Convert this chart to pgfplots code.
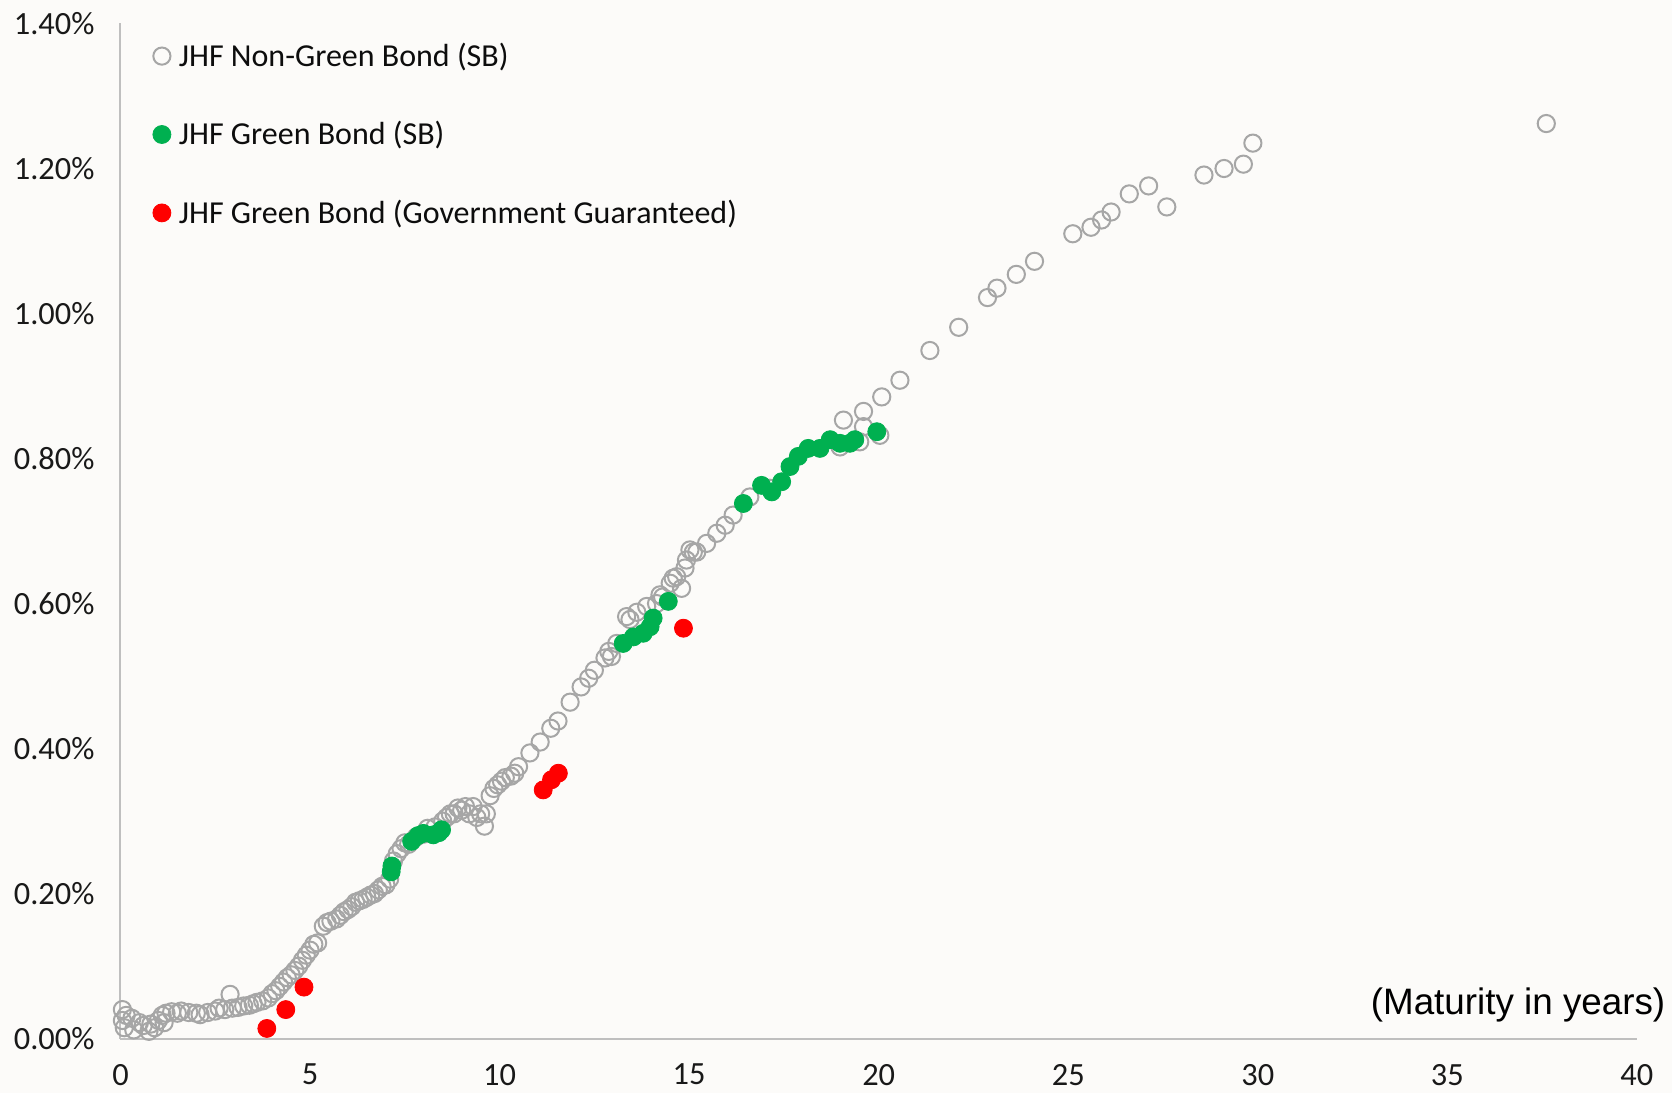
\documentclass[border=0pt]{standalone}
\usepackage{pgfplots}
\pgfplotsset{compat=1.18}
\usepackage{fontspec}
\setmainfont{Carlito}
\newfontfamily\arialfont{Liberation Sans}
\usetikzlibrary{backgrounds}
\definecolor{bgc}{RGB}{252,251,249}
\definecolor{gry}{RGB}{166,166,166}
\definecolor{grn}{RGB}{0,176,80}
\definecolor{rd}{RGB}{255,0,0}
\definecolor{axc}{RGB}{191,191,191}
\begin{document}
\begin{tikzpicture}[background rectangle/.style={fill=bgc,draw=none}, show background rectangle, inner frame sep=0pt]
\begin{axis}[
  scale only axis, width=758.2pt, height=507.55pt,
  xmin=0, xmax=40, ymin=0, ymax=1.4,
  axis x line=bottom, axis y line=left,
  axis line style={axc, line width=1pt, -},
  xtick={0,5,10,15,20,25,30,35,40},
  ytick={0,0.2,0.4,0.6,0.8,1.0,1.2,1.4},
  major tick length=0pt,
  tick label style={font=\fontsize{16.2}{19}\selectfont, text=black!90},
  /pgf/number format/assume math mode=true,
  yticklabel={\pgfmathprintnumber[fixed,fixed zerofill,precision=2]{\tick}\%},
  yticklabel style={xshift=-9.5pt},
  xticklabel style={inner sep=0pt, yshift=-12.5pt},
  xlabel={(Maturity in years)},
  xlabel style={at={(rel axis cs:1,0)}, anchor=east, xshift=14.4pt, yshift=17pt, inner sep=0pt,
    font=\arialfont\fontsize{18.4}{22}\selectfont, text=black},
  legend style={at={(rel axis cs:0,1)}, anchor=north west, xshift=13pt, yshift=-5.5pt,
    draw=none, fill=none, font=\fontsize{16}{19}\selectfont, row sep=22pt, text=black!95},
  legend cell align=left,
  clip=false,
]
\addplot[only marks, mark=o, mark size=4.3pt, mark options={draw=gry, line width=1pt}] table {
x y
0.05 0.040
0.05 0.025
0.10 0.015
0.15 0.032
0.30 0.028
0.35 0.012
0.50 0.022
0.60 0.018
0.75 0.010
0.80 0.020
0.90 0.015
1.00 0.025
1.10 0.032
1.15 0.022
1.20 0.035
1.35 0.037
1.50 0.035
1.60 0.038
1.80 0.036
2.00 0.035
2.10 0.033
2.30 0.036
2.50 0.038
2.60 0.042
2.75 0.040
2.89 0.061
2.95 0.042
3.10 0.043
3.25 0.045
3.40 0.046
3.50 0.048
3.60 0.050
3.75 0.052
3.90 0.056
4.00 0.062
4.10 0.066
4.20 0.072
4.30 0.078
4.40 0.084
4.50 0.088
4.60 0.094
4.70 0.100
4.80 0.108
4.90 0.115
5.00 0.122
5.10 0.130
5.20 0.132
5.35 0.155
5.45 0.160
5.55 0.162
5.70 0.165
5.80 0.170
5.90 0.175
6.00 0.178
6.10 0.182
6.20 0.188
6.30 0.190
6.40 0.192
6.50 0.195
6.60 0.198
6.70 0.200
6.80 0.205
6.90 0.210
7.00 0.212
7.10 0.220
7.20 0.245
7.30 0.255
7.40 0.262
7.50 0.270
7.60 0.268
7.80 0.278
8.00 0.282
8.10 0.290
8.30 0.292
8.50 0.300
8.60 0.305
8.70 0.310
8.80 0.310
8.90 0.318
9.00 0.315
9.10 0.320
9.20 0.310
9.30 0.320
9.40 0.305
9.50 0.310
9.60 0.293
9.65 0.310
9.75 0.335
9.85 0.345
9.95 0.350
10.05 0.355
10.15 0.360
10.30 0.362
10.40 0.366
10.50 0.375
10.80 0.394
11.07 0.409
11.35 0.428
11.54 0.438
11.86 0.464
12.15 0.485
12.35 0.497
12.50 0.508
12.78 0.525
12.88 0.534
12.95 0.527
13.09 0.545
13.35 0.582
13.44 0.578
13.62 0.588
13.88 0.596
14.14 0.600
14.23 0.612
14.30 0.609
14.50 0.628
14.58 0.635
14.67 0.637
14.80 0.621
14.89 0.649
14.93 0.660
15.02 0.674
15.11 0.671
15.20 0.671
15.46 0.683
15.73 0.697
15.95 0.708
16.16 0.722
16.60 0.747
17.13 0.759
18.98 0.816
19.07 0.853
19.50 0.823
19.60 0.865
19.60 0.844
20.03 0.832
20.08 0.885
20.56 0.908
21.35 0.949
22.11 0.981
22.87 1.022
23.12 1.035
23.63 1.054
24.11 1.072
25.12 1.110
25.60 1.119
25.88 1.129
26.13 1.140
26.61 1.165
27.12 1.176
27.60 1.147
28.58 1.191
29.11 1.200
29.62 1.206
29.87 1.235
37.61 1.262
};
\addlegendentry{\hspace{2pt}JHF Non-Green Bond (SB)}
\addplot[only marks, mark=*, mark size=4.5pt, mark options={draw=grn, fill=grn}] table {
x y
7.14 0.230
7.16 0.238
7.68 0.272
7.85 0.280
7.99 0.283
8.25 0.281
8.40 0.284
8.47 0.288
13.26 0.545
13.53 0.554
13.79 0.559
13.97 0.568
14.05 0.580
14.45 0.603
16.43 0.738
16.91 0.763
17.18 0.754
17.44 0.768
17.66 0.789
17.88 0.803
18.14 0.814
18.45 0.814
18.72 0.826
18.98 0.821
19.24 0.821
19.37 0.826
19.95 0.837
};
\addlegendentry{\hspace{2pt}JHF Green Bond (SB)}
\addplot[only marks, mark=*, mark size=4.5pt, mark options={draw=rd, fill=rd}] table {
x y
3.86 0.014
4.36 0.040
4.84 0.071
11.15 0.343
11.37 0.357
11.55 0.366
14.85 0.566
};
\addlegendentry{\hspace{2pt}JHF Green Bond (Government Guaranteed)}
\end{axis}
\pgfresetboundingbox
\path[use as bounding box] (-60.25pt,-27.2pt) rectangle (775.75pt,519.3pt);
\end{tikzpicture}
\end{document}
